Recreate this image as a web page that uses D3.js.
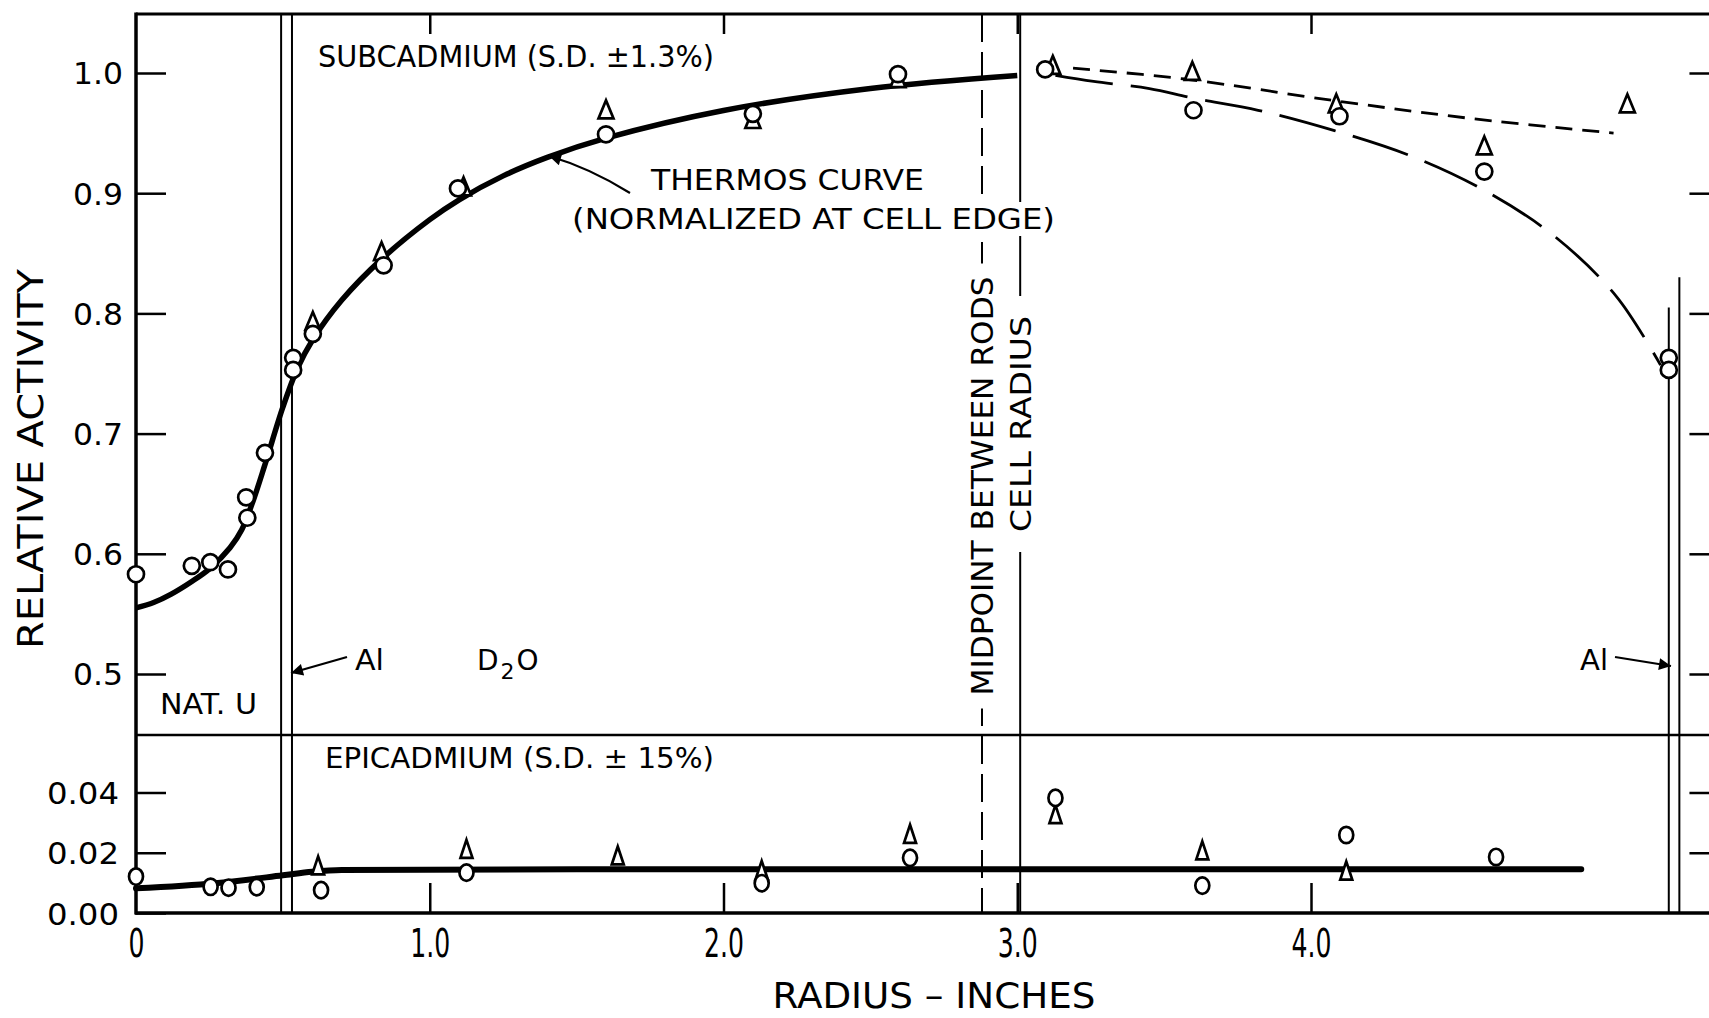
<!DOCTYPE html>
<html>
<head>
<meta charset="utf-8">
<script src="https://cdn.jsdelivr.net/npm/d3@7"></script>
<style>
  html, body { margin: 0; padding: 0; background: #fff; }
  svg { display: block; }
  text { font-family: "DejaVu Sans", sans-serif; fill: #000; }
</style>
</head>
<body>
<svg id="chart" width="1709" height="1018"></svg>
<script>
// Radial activity traverse through a natural-uranium rod cell in D2O.
// Each series is a list of [radius in inches, relative activity].

// Subcadmium measurements
const subcadCircles = [
  [0, 0.583], [0.19, 0.590], [0.253, 0.593], [0.313, 0.587], [0.375, 0.647],
  [0.379, 0.630], [0.439, 0.684], [0.535, 0.763], [0.535, 0.753], [0.602, 0.783],
  [0.843, 0.840], [1.096, 0.904], [1.60, 0.949], [2.10, 0.966], [2.594, 0.999],
  [3.095, 1.003], [3.60, 0.969], [4.097, 0.964], [4.59, 0.918], [5.218, 0.763],
  [5.218, 0.753]
];
const subcadTriangles = [
  [0.602, 0.793], [0.836, 0.851], [1.115, 0.905], [1.60, 0.969], [2.10, 0.961],
  [2.594, 0.995], [3.121, 1.006], [3.596, 1.001], [4.086, 0.974], [4.59, 0.939],
  [5.077, 0.974]
];

// THERMOS calculation, normalized at the cell edge
const thermosCurve = [
  [0, 0.555], [0.06, 0.5595], [0.12, 0.5665], [0.19, 0.577], [0.25, 0.5875],
  [0.32, 0.605], [0.36, 0.620], [0.4, 0.645], [0.44, 0.675], [0.5, 0.722],
  [0.55, 0.7545], [0.6, 0.7775], [0.7, 0.8109], [0.84, 0.846], [1.0, 0.878],
  [1.1, 0.8945], [1.25, 0.9144], [1.4, 0.9298], [1.6, 0.9458], [2.0, 0.9688],
  [2.5, 0.9871], [3.0, 0.9979]
];

// Hand-drawn trends beyond the cell radius
const circleTrend = [
  [3.13, 0.998], [3.26, 0.993], [3.45, 0.987], [3.6, 0.979], [3.82, 0.969],
  [4.08, 0.952], [4.35, 0.930], [4.6, 0.901], [4.83, 0.864], [5.04, 0.814],
  [5.19, 0.757]
];
const triangleTrend = [
  [3.19, 1.004], [3.57, 0.995], [4.08, 0.977], [4.55, 0.962], [5.03, 0.950]
];

// Epicadmium measurements
const epiCircles = [
  [0, 0.0121], [0.254, 0.0087], [0.315, 0.0084], [0.411, 0.0086], [0.63, 0.0076],
  [1.125, 0.0134], [2.13, 0.0099], [2.635, 0.0183], [3.13, 0.0382], [3.63, 0.0091],
  [4.12, 0.0259], [4.63, 0.0186]
];
const epiTriangles = [
  [0.62, 0.0155], [1.125, 0.0210], [1.64, 0.0188], [2.13, 0.0140], [2.635, 0.0260],
  [3.13, 0.0325], [3.63, 0.0205], [4.12, 0.0138]
];
const epiCurve = [
  [0, 0.0082], [0.27, 0.0099], [0.5, 0.0125], [0.6, 0.0137], [0.7, 0.0143],
  [1.5, 0.0145], [4.92, 0.0145]
];

// Ticks
const xTicks = [0, 1, 2, 3, 4];
const xTickLabels = ["0", "1.0", "2.0", "3.0", "4.0"];
const upperTicks = [0.5, 0.6, 0.7, 0.8, 0.9, 1.0];
const upperTickLabels = ["0.5", "0.6", "0.7", "0.8", "0.9", "1.0"];
const lowerTicks = [0, 0.02, 0.04];
const lowerTickLabels = ["0.00", "0.02", "0.04"];

// Boundaries in the cell (inches)
const alLeft = [0.494, 0.531];
const alRight = [5.218, 5.254];
const alRightTops = [0.805, 0.830];   // activity level where the right Al lines start
const midpointR = 2.88;
const cellRadiusR = 3.01;

// ---------------------------------------------------------------
const svg = d3.select("#chart");

const x = d3.scaleLinear().domain([0, 4]).range([136, 1311]);
const yU = d3.scaleLinear().domain([0.5, 1.0]).range([674, 73]);
const yL = d3.scaleLinear().domain([0, 0.04]).range([913, 792.5]);

const plotLeft = x(0), plotRight = x(5.37);
const plotTop = 14, plotDivider = 735, plotBottom = 913;

// arrowhead
svg.append("defs").append("marker")
  .attr("id", "arrow").attr("viewBox", "0 0 10 10")
  .attr("refX", 10).attr("refY", 5)
  .attr("markerUnits", "userSpaceOnUse")
  .attr("markerWidth", 20).attr("markerHeight", 12)
  .attr("orient", "auto")
  .append("path").attr("d", "M0,0 L10,5 L0,10 Z").attr("fill", "#000");

// frame
const frame = svg.append("g").attr("stroke", "#000").attr("fill", "none");
frame.append("line").attr("x1", plotLeft).attr("x2", plotRight).attr("y1", plotTop).attr("y2", plotTop).attr("stroke-width", 3);
frame.append("line").attr("x1", plotLeft).attr("x2", plotRight).attr("y1", plotDivider).attr("y2", plotDivider).attr("stroke-width", 2.5);
frame.append("line").attr("x1", plotLeft - 1).attr("x2", plotRight).attr("y1", plotBottom).attr("y2", plotBottom).attr("stroke-width", 3.5);
frame.append("line").attr("x1", plotLeft).attr("x2", plotLeft).attr("y1", plotTop - 1.5).attr("y2", plotBottom + 1.5).attr("stroke-width", 3.5);

// axes
function styleAxis(g, size) {
  g.select(".domain").remove();
  g.selectAll(".tick line").attr("stroke", "#000").attr("stroke-width", 2.5);
  g.selectAll(".tick text").attr("font-family", "DejaVu Sans, sans-serif").attr("font-size", size).attr("fill", "#000");
}

svg.append("g").attr("transform", `translate(${plotLeft},0)`)
  .call(d3.axisLeft(yU).tickValues(upperTicks).tickFormat((d, i) => upperTickLabels[i]).tickSize(-30).tickPadding(13))
  .call(g => styleAxis(g, 30))
  .call(g => g.selectAll(".tick text").attr("dy", "0.36em").attr("textLength", 50).attr("lengthAdjust", "spacingAndGlyphs"));

svg.append("g").attr("transform", `translate(${plotLeft},0)`)
  .call(d3.axisLeft(yL).tickValues(lowerTicks).tickFormat((d, i) => lowerTickLabels[i]).tickSize(-30).tickPadding(17))
  .call(g => styleAxis(g, 31))
  .call(g => g.selectAll(".tick text").attr("dy", "0.36em").attr("textLength", 72).attr("lengthAdjust", "spacingAndGlyphs"));

svg.append("g").attr("transform", `translate(${plotRight},0)`)
  .call(d3.axisRight(yU).tickValues(upperTicks).tickFormat("").tickSize(-24))
  .call(g => styleAxis(g, 10));
svg.append("g").attr("transform", `translate(${plotRight},0)`)
  .call(d3.axisRight(yL).tickValues(lowerTicks.slice(1)).tickFormat("").tickSize(-24))
  .call(g => styleAxis(g, 10));

svg.append("g").attr("transform", `translate(0,${plotBottom})`)
  .call(d3.axisBottom(x).tickValues(xTicks).tickFormat((d, i) => xTickLabels[i]).tickSize(-30).tickPadding(16))
  .call(g => styleAxis(g, 39))
  .call(g => g.selectAll(".tick text").attr("textLength", d => d === 0 ? 16 : 40).attr("lengthAdjust", "spacingAndGlyphs"))
  .call(g => g.selectAll(".tick line").filter(d => d === 0).remove());

svg.append("g").attr("transform", `translate(0,${plotTop})`)
  .call(d3.axisTop(x).tickValues(xTicks.slice(1)).tickFormat("").tickSize(-20))
  .call(g => styleAxis(g, 10));

// boundary lines
const bounds = svg.append("g").attr("stroke", "#000").attr("fill", "none").attr("stroke-width", 2);
alLeft.forEach(r => bounds.append("line").attr("x1", x(r)).attr("x2", x(r)).attr("y1", plotTop).attr("y2", plotBottom));
alRight.forEach((r, i) => bounds.append("line").attr("x1", x(r)).attr("x2", x(r)).attr("y1", yU(alRightTops[i])).attr("y2", plotBottom));
bounds.append("line").attr("x1", x(midpointR)).attr("x2", x(midpointR)).attr("y1", plotTop).attr("y2", plotBottom)
  .attr("stroke-dasharray", "28,10");
bounds.append("line").attr("x1", x(cellRadiusR)).attr("x2", x(cellRadiusR)).attr("y1", plotTop).attr("y2", plotBottom);

// curves
const lineU = d3.line().x(d => x(d[0])).y(d => yU(d[1])).curve(d3.curveCatmullRom.alpha(0.5));
const lineL = d3.line().x(d => x(d[0])).y(d => yL(d[1])).curve(d3.curveMonotoneX);
const curves = svg.append("g").attr("fill", "none").attr("stroke", "#000");
curves.append("path").attr("d", lineU(thermosCurve)).attr("stroke-width", 5.5).attr("stroke-linecap", "butt");
curves.append("path").attr("d", lineU(circleTrend)).attr("stroke-width", 2.8).attr("stroke-dasharray", "58,18");
curves.append("path").attr("d", lineU(triangleTrend)).attr("stroke-width", 2.8).attr("stroke-dasharray", "17,10");
curves.append("path").attr("d", lineL(epiCurve)).attr("stroke-width", 6).attr("stroke-linecap", "round");

// markers
const marks = svg.append("g").attr("fill", "#fff").attr("stroke", "#000").attr("stroke-width", 2.7);
function triangles(data, y, w, h) {
  marks.selectAll(null).data(data).enter().append("path")
    .attr("d", d => {
      const cx = x(d[0]), cy = y(d[1]);
      return `M${cx},${cy - h * 0.55} L${cx + w / 2},${cy + h * 0.45} L${cx - w / 2},${cy + h * 0.45} Z`;
    })
    .attr("stroke-linejoin", "miter");
}
function circles(data, y, rx, ry) {
  marks.selectAll(null).data(data).enter().append("ellipse")
    .attr("cx", d => x(d[0])).attr("cy", d => y(d[1]))
    .attr("rx", rx).attr("ry", ry);
}
triangles(subcadTriangles, yU, 15, 18);
circles(subcadCircles, yU, 8, 8);
triangles(epiTriangles, yL, 12, 18);
circles(epiCircles, yL, 7, 8.2);

// arrows
const arrows = svg.append("g").attr("stroke", "#000").attr("stroke-width", 2.2).attr("fill", "none");
arrows.append("path").attr("d", "M630,193 Q590,168 549,156").attr("marker-end", "url(#arrow)");
arrows.append("line").attr("x1", 347).attr("y1", 657).attr("x2", 291).attr("y2", 673).attr("marker-end", "url(#arrow)");
arrows.append("line").attr("x1", 1615).attr("y1", 657).attr("x2", 1671).attr("y2", 666).attr("marker-end", "url(#arrow)");

// labels
function addLabel({ x0, y0, text, size, length, anchor = "start", rotate = 0, center = false, knockout = null }) {
  const g = svg.append("g").attr("transform", `translate(${x0},${y0}) rotate(${rotate})`);
  const bg = knockout ? g.append("rect").attr("fill", "#fff") : null;
  const t = g.append("text").attr("font-size", size).attr("text-anchor", anchor).text(text);
  if (center) t.attr("dy", "0.36em");
  if (length) t.attr("textLength", length).attr("lengthAdjust", "spacingAndGlyphs");
  if (bg) {
    const b = t.node().getBBox();
    bg.attr("x", b.x - knockout[0]).attr("y", b.y - knockout[1])
      .attr("width", b.width + 2 * knockout[0]).attr("height", b.height + 2 * knockout[1]);
  }
  return t;
}

addLabel({ x0: 318, y0: 67, text: "SUBCADMIUM (S.D. ±1.3%)", size: 30, length: 396 });
addLabel({ x0: 651, y0: 190, text: "THERMOS CURVE", size: 29, length: 273 });
addLabel({ x0: 572, y0: 229, text: "(NORMALIZED AT CELL EDGE)", size: 29, length: 483, knockout: [2, 0] });
addLabel({ x0: 160, y0: 714, text: "NAT. U", size: 28, length: 97 });
addLabel({ x0: 355, y0: 670, text: "Al", size: 28, length: 29 });
addLabel({ x0: 1580, y0: 670, text: "Al", size: 28, length: 28 });
addLabel({ x0: 325, y0: 768, text: "EPICADMIUM (S.D. ± 15%)", size: 28, length: 389 });

const d2o = svg.append("text").attr("x", 477).attr("y", 670).attr("font-size", 28);
d2o.append("tspan").text("D");
d2o.append("tspan").attr("dy", 9).attr("dx", 2).attr("font-size", 22).text("2");
d2o.append("tspan").attr("dy", -9).attr("dx", 2).text("O");

addLabel({ x0: x(midpointR), y0: 486, text: "MIDPOINT BETWEEN RODS", size: 31, length: 419,
  anchor: "middle", rotate: -90, center: true, knockout: [13, 0] });
addLabel({ x0: x(cellRadiusR), y0: 424, text: "CELL RADIUS", size: 29, length: 216,
  anchor: "middle", rotate: -90, center: true, knockout: [20, 0] });

addLabel({ x0: 30, y0: 459, text: "RELATIVE ACTIVITY", size: 36, length: 380,
  anchor: "middle", rotate: -90, center: true });
addLabel({ x0: 934, y0: 1008, text: "RADIUS – INCHES", size: 36, length: 323, anchor: "middle" });
</script>
</body>
</html>
